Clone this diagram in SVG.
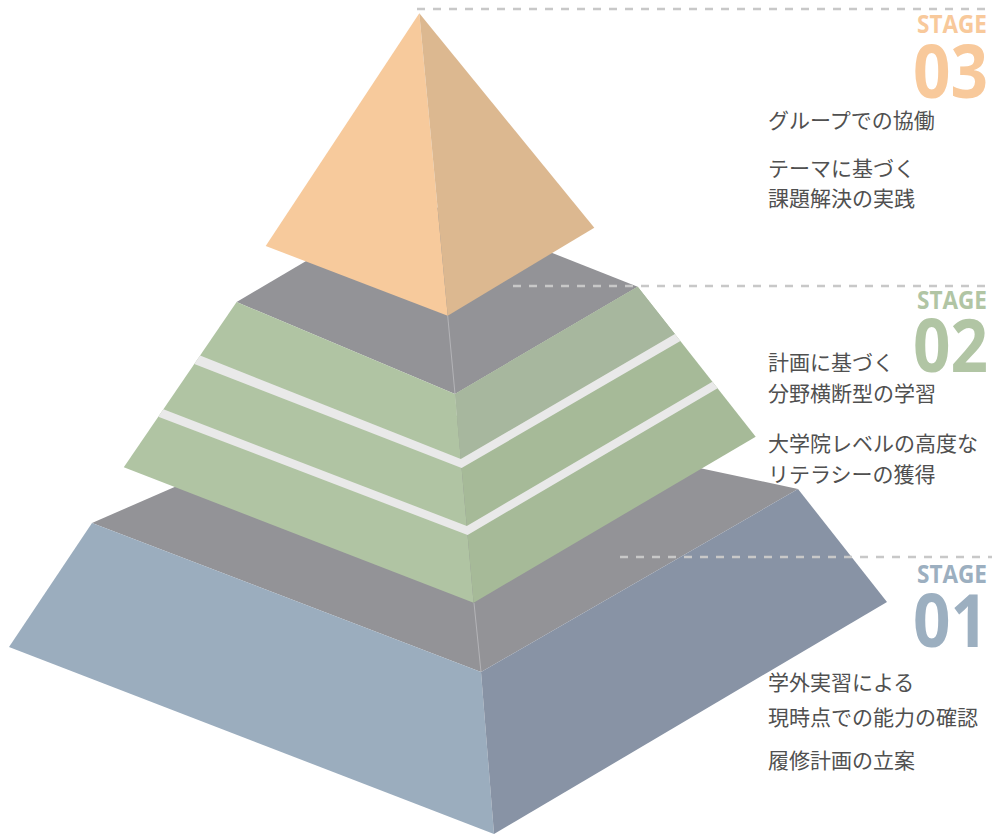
<svg xmlns="http://www.w3.org/2000/svg" width="992" height="835" viewBox="0 0 992 835">
<style>
.gray{fill:#939397}
.seam{stroke:#c9c9cc;stroke-width:0.6;fill:none}
.stripe{fill:#e9e9e9}
.dash{stroke:#c8c8c8;stroke-width:2.5;stroke-dasharray:8 8;fill:none}
.stage{font-family:"Open Sans","Noto Sans",sans-serif;font-weight:700}
.body{font-family:"Noto Sans CJK JP","Noto Sans",sans-serif;font-size:21px;fill:#505050}
.s3{fill:#f8c99b}.s2{fill:#b1c5a4}.s1{fill:#9cafc0}
</style>
<rect width="992" height="835" fill="#ffffff"/>
<g id="tier1">
<polygon class="gray" points="92,523 481,672 798,489 376,399"/>
<polygon fill="#9badbe" points="92,523 481,672 494,834 9,647"/>
<polygon fill="#8893a5" points="481,672 798,489 887,602 494,834"/>
<line class="seam" x1="474" y1="603" x2="481" y2="672"/>
</g>
<g id="tier2">
<polygon class="gray" points="236.6,302 455,394 637.7,286.7 413,198"/>
<polygon fill="#b0c4a3" points="236.6,302 455,394 473.6,602.7 123.8,467.3"/>
<polygon fill="#a6ba98" points="455,394 637.7,286.7 755.7,436.7 473.6,602.7"/>
<polygon fill="#a7b79e" points="455,394 637.7,286.7 674.9,334 460.8,459"/>
<polygon class="stripe" points="200.1,355.5 460.8,459 674.9,334 680.4,341 461.6,468 194.3,364"/>
<polygon class="stripe" points="163.4,409.3 466.8,526 712.4,381.7 717.6,388.3 467.6,535 158.3,416.7"/>
<line class="seam" x1="447.7" y1="315.7" x2="455" y2="394"/>
</g>
<g id="tier3">
<polygon fill="#f7ca9c" points="419.3,13.3 265.7,246 447.7,315.7"/>
<polygon fill="#dcb890" points="419.3,13.3 447.7,315.7 594.3,227.7"/>
</g>
<g id="connectors">
<line class="dash" x1="417" y1="9" x2="992" y2="9"/>
<line class="dash" x1="513" y1="286" x2="992" y2="286"/>
<line class="dash" x1="620" y1="557" x2="992" y2="557"/>
</g>
<g id="stage03">
<text class="stage s3" x="917" y="33" font-size="25" textLength="70" lengthAdjust="spacingAndGlyphs">STAGE</text>
<text class="stage s3" x="913" y="98" font-size="74" textLength="75" lengthAdjust="spacingAndGlyphs">03</text>
<text class="body" x="768" y="128">グループでの協働</text>
<text class="body" x="768" y="176">テーマに基づく</text>
<text class="body" x="768" y="206">課題解決の実践</text>
</g>
<g id="stage02">
<text class="stage s2" x="917" y="309" font-size="25" textLength="70" lengthAdjust="spacingAndGlyphs">STAGE</text>
<text class="stage s2" x="913" y="372" font-size="74" textLength="75" lengthAdjust="spacingAndGlyphs">02</text>
<text class="body" x="768" y="370">計画に基づく</text>
<text class="body" x="768" y="401">分野横断型の学習</text>
<text class="body" x="768" y="451">大学院レベルの高度な</text>
<text class="body" x="768" y="482">リテラシーの獲得</text>
</g>
<g id="stage01">
<text class="stage s1" x="917" y="583" font-size="25" textLength="70" lengthAdjust="spacingAndGlyphs">STAGE</text>
<text class="stage s1" x="913" y="647" font-size="74" textLength="75" lengthAdjust="spacingAndGlyphs">01</text>
<text class="body" x="768" y="690">学外実習による</text>
<text class="body" x="768" y="725">現時点での能力の確認</text>
<text class="body" x="768" y="768">履修計画の立案</text>
</g>
</svg>
